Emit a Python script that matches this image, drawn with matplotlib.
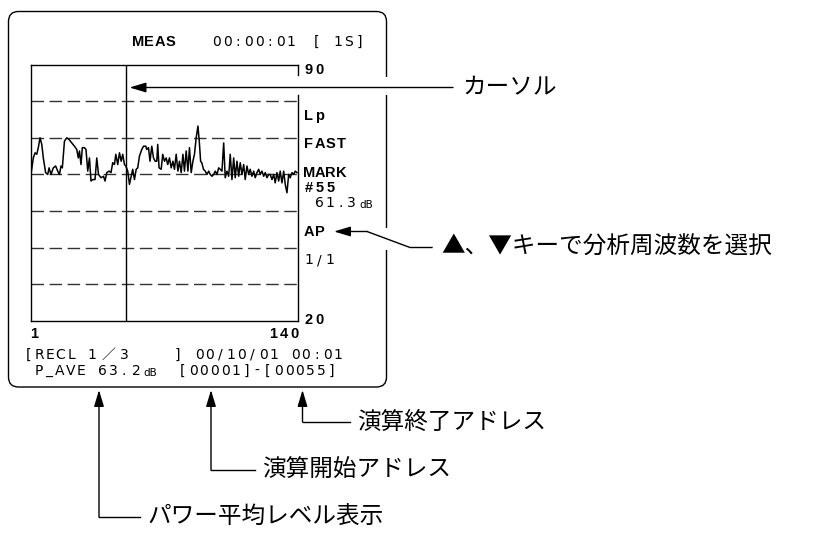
import matplotlib.pyplot as plt
from matplotlib.patches import FancyBboxPatch, Rectangle
import numpy as np

# trace (address, level in dB)
address = [1.0, 2.2, 3.1, 4.0, 4.8, 5.7, 6.6, 7.4, 8.6, 9.7,
           10.4, 11.4, 12.6, 13.8, 14.9, 15.8, 16.6, 17.3, 18.4, 19.6,
           20.8, 22.2, 23.6, 24.8, 25.6, 26.2, 27.0, 27.7, 28.8, 29.6,
           30.5, 31.4, 32.2, 33.1, 34.3, 35.2, 36.1, 37.4, 38.7, 39.5,
           40.4, 41.6, 42.6, 43.5, 44.4, 45.1, 46.1, 47.0, 47.9, 48.7,
           49.6, 50.3, 51.3, 52.2, 53.1, 53.9, 54.8, 55.7, 56.5, 57.4,
           58.6, 59.5, 60.7, 61.2, 62.1, 62.9, 63.8, 64.7, 65.6, 66.4,
           66.9, 67.6, 68.7, 69.5, 70.4, 71.3, 72.1, 73.0, 73.9, 74.8,
           75.6, 76.5, 77.4, 78.2, 79.1, 80.0, 80.8, 81.7, 82.6, 83.4,
           84.3, 85.2, 86.0, 86.9, 87.8, 88.5, 89.2, 89.8, 90.7, 91.6,
           92.5, 93.4, 94.2, 95.1, 96.0, 96.8, 97.7, 98.6, 99.4, 100.3,
           101.2, 102.0, 102.9, 103.8, 104.6, 105.5, 106.4, 107.2, 108.1, 109.0,
           109.8, 110.7, 111.6, 112.4, 113.3, 114.2, 115.0, 115.9, 116.8, 117.6,
           118.5, 119.4, 120.2, 121.1, 122.0, 122.8, 123.7, 124.6, 125.4, 126.3,
           127.2, 128.0, 128.9, 129.8, 130.6, 131.5, 132.4, 133.2, 134.1, 135.0,
           135.8, 136.7, 137.6, 138.4, 139.3]
level_db = [60.0, 64.5, 65.9, 65.5, 67.3, 70.0, 68.2, 64.5, 60.5, 60.0,
            61.8, 60.0, 61.8, 62.3, 60.9, 60.0, 62.3, 61.8, 69.1, 70.0,
            69.5, 68.6, 67.7, 66.8, 64.5, 66.4, 62.7, 67.3, 67.3, 66.8,
            60.9, 64.5, 58.2, 58.6, 58.6, 64.5, 60.0, 59.1, 59.5, 58.2,
            60.5, 60.9, 60.5, 63.2, 62.7, 65.5, 62.7, 65.9, 63.6, 65.5,
            62.7, 62.3, 60.9, 57.3, 59.5, 61.4, 58.6, 61.4, 61.8, 65.0,
            66.8, 67.7, 67.7, 66.8, 67.3, 63.6, 67.7, 64.5, 63.6, 63.6,
            68.2, 61.8, 61.4, 65.5, 63.6, 64.5, 62.7, 64.5, 61.8, 63.6,
            61.4, 65.5, 60.9, 63.6, 60.5, 65.5, 60.9, 66.4, 60.9, 67.3,
            60.5, 63.6, 65.5, 70.0, 73.2, 69.1, 63.6, 63.2, 61.4, 60.9,
            60.0, 60.9, 60.0, 59.5, 60.0, 60.9, 60.0, 61.8, 61.4, 60.9,
            68.6, 59.1, 60.9, 59.5, 65.5, 58.6, 64.5, 59.1, 63.6, 59.5,
            63.2, 60.0, 62.7, 58.6, 62.3, 60.0, 61.4, 59.5, 60.9, 59.1,
            60.5, 61.4, 60.0, 60.9, 59.5, 60.5, 59.1, 60.0, 60.0, 58.6,
            60.0, 57.7, 60.5, 58.2, 60.9, 57.7, 60.9, 57.3, 55.0, 60.0,
            59.1, 60.5, 60.0, 60.9, 60.5]
cursor_addr = 50.6
grid_db = [30, 40, 50, 60, 70, 80]
y_range = (20, 90)
x_range = (1, 140)

LAT = ['DejaVu Sans', 'Noto Sans CJK JP']
LAT_B = ['Liberation Sans', 'DejaVu Sans']
JP = ['Noto Sans CJK JP', 'DejaVu Sans']

W, H = 832, 537
fig = plt.figure(figsize=(W / 100, H / 100), dpi=100)

# plot area in pixel box
PL, PR, PT, PB = 31, 298.3, 64.5, 321
ax = fig.add_axes([PL / W, 1 - PB / H, (PR - PL) / W, (PB - PT) / H], zorder=1)
ax.plot(address, level_db, color='k', lw=1.1)
ax.axvline(cursor_addr, color='k', lw=1.0)
ax.set_xlim(*x_range)
ax.set_ylim(*y_range)
ax.set_xticks([])
ax.set_yticks(grid_db)
ax.tick_params(left=False, labelleft=False)
ax.grid(axis='y', color='#333333', lw=1.0, ls=(0, (9, 4)))
ax.spines['right'].set_visible(False)
for s in ['top', 'left', 'bottom']:
    ax.spines[s].set_linewidth(1.0)

# overlay in pixel coordinates
ov = fig.add_axes([0, 0, 1, 1], zorder=2)
ov.set_xlim(0, W)
ov.set_ylim(H, 0)
ov.axis('off')
ov.patch.set_alpha(0)

ov.add_patch(FancyBboxPatch((8.5, 11.5), 378, 375.5, boxstyle='round,pad=0,rounding_size=10',
                            fc='none', ec='k', lw=1.0, zorder=1))
ov.plot([PR, PR], [PT, 75], color='k', lw=1.0)
ov.plot([PR, PR], [95, PB], color='k', lw=1.0)
# gaps in the frame where leader lines pass
ov.add_patch(Rectangle((382, 77), 9, 18, fc='white', ec='none', zorder=2))
ov.add_patch(Rectangle((382, 228), 9, 22, fc='white', ec='none', zorder=2))

PITCH = 10.67


def lcd(x, y, s, size=10, bold=False):
    i = 0
    for ch in s:
        cells = 2 if ch == '／' else 1
        if ch != ' ':
            if bold:
                ov.text(x + (i + cells / 2) * PITCH, y, ch, ha='center', va='center',
                        fontsize=size + 0.5, fontweight='bold', family=LAT_B)
            else:
                ov.text(x + (i + cells / 2) * PITCH, y, ch, ha='center', va='center',
                        fontsize=size, family=LAT)
        i += cells


RX = 303.5
lcd(133, 42, "MEAS", bold=True)
lcd(211, 42, "00:00:01")
lcd(311, 42, "[ 1S]")
lcd(RX, 70.5, "90", bold=True)
lcd(RX, 116, "Lp", bold=True)
lcd(RX, 144, "FAST", bold=True)
lcd(RX, 173, "MARK", bold=True)
lcd(RX, 188, "#55", bold=True)
lcd(314, 203, "61.")
lcd(346, 203, "3")
ov.text(359, 205, "dB", ha='left', va='center', fontsize=7.5, family=LAT)
lcd(RX, 231.5, "AP", bold=True)
lcd(RX, 260, "1/1")
lcd(RX, 320, "20", bold=True)
lcd(29, 334, "1", bold=True)
lcd(268, 334, "140", bold=True)
lcd(23, 355, "[RECL 1／3    ] 00/10/01 00:01")
lcd(33, 371, "P_AVE 63.")
lcd(131, 371, "2")
ov.text(143, 373, "dB", ha='left', va='center', fontsize=7.5, family=LAT)
lcd(177, 371, "[00001]-[00055]")


def arrow(tip, tail):
    ov.annotate('', xy=tip, xytext=tail, zorder=3,
                arrowprops=dict(arrowstyle='-|>,head_length=1.0,head_width=0.3',
                                mutation_scale=10, color='k', lw=1.0, shrinkA=0, shrinkB=0))


# cursor
arrow((129.5, 87.5), (453, 87.5))
ov.text(462, 87.5, "カーソル", ha='left', va='center', fontsize=17, family=JP)

# AP
ov.plot([432, 410, 367], [247.5, 247.5, 231.5], color='k', lw=1.0, zorder=3)
arrow((334, 231.5), (367, 231.5))
ov.text(441, 247.5, "▲、▼キーで分析周波数を選択", ha='left', va='center', fontsize=17, family=JP)

# bottom leaders
leaders = [(302.5, 422, 350, "演算終了アドレス"),
           (211, 470, 255, "演算開始アドレス"),
           (99, 517, 140, "パワー平均レベル表示")]
for x, y, xe, label in leaders:
    arrow((x, 390), (x, y))
    ov.plot([x, xe], [y, y], color='k', lw=1.0, zorder=3)
    ov.text(xe + 7, y, label, ha='left', va='center', fontsize=17, family=JP)

fig.savefig('out.png', dpi=100)
